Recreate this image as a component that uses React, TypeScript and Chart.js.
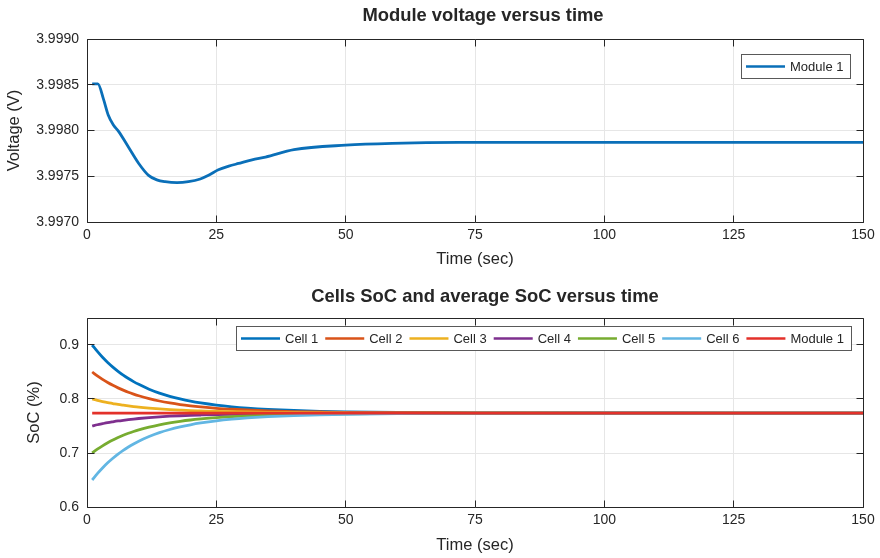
import React, { useEffect, useRef } from 'react';
import { Chart, registerables } from 'chart.js';

Chart.register(...registerables);

// ---------- data ----------
const timeV = [1, 2.1, 3.2, 4.1, 5.1, 6.1, 8, 10, 11.9, 13.5, 15.1, 17.4, 19.6, 21.9, 23.5, 25.4, 27.4, 29.3, 31.9, 34.5, 40, 50, 59, 72, 90, 110, 130, 150];
const voltage = [3.99851, 3.99851, 3.99834, 3.99817, 3.99806, 3.99799, 3.99782, 3.99764, 3.99751, 3.99746, 3.99744, 3.99743, 3.99744, 3.99747, 3.99751, 3.99757, 3.99761, 3.99764, 3.99768, 3.99771, 3.99779, 3.99784, 3.99786, 3.99787, 3.99787, 3.99787, 3.99787, 3.99787];

const timeSoC = [1, 2, 3, 4, 5, 6, 7, 8, 9, 10, 12, 14, 16, 18, 20, 22, 25, 28, 31, 35, 40, 45, 50, 60, 75, 100, 125, 150];
const cell1 = [0.9000, 0.8881, 0.8773, 0.8677, 0.8591, 0.8513, 0.8442, 0.8379, 0.8322, 0.8271, 0.8182, 0.8109, 0.8050, 0.8001, 0.7960, 0.7927, 0.7887, 0.7856, 0.7832, 0.7808, 0.7787, 0.7772, 0.7762, 0.7750, 0.7743, 0.7741, 0.7740, 0.7740];
const cell2 = [0.8500, 0.8428, 0.8363, 0.8305, 0.8253, 0.8206, 0.8164, 0.8125, 0.8091, 0.8060, 0.8007, 0.7963, 0.7927, 0.7897, 0.7873, 0.7853, 0.7828, 0.7810, 0.7796, 0.7781, 0.7768, 0.7760, 0.7753, 0.7746, 0.7742, 0.7740, 0.7740, 0.7740];
const cell3 = [0.8000, 0.7975, 0.7953, 0.7933, 0.7916, 0.7899, 0.7885, 0.7872, 0.7860, 0.7849, 0.7831, 0.7816, 0.7804, 0.7794, 0.7785, 0.7779, 0.7770, 0.7764, 0.7759, 0.7754, 0.7750, 0.7747, 0.7745, 0.7742, 0.7741, 0.7740, 0.7740, 0.7740];
const cell4 = [0.7500, 0.7523, 0.7543, 0.7562, 0.7578, 0.7593, 0.7606, 0.7618, 0.7629, 0.7639, 0.7656, 0.7670, 0.7681, 0.7690, 0.7698, 0.7704, 0.7712, 0.7718, 0.7722, 0.7727, 0.7731, 0.7734, 0.7736, 0.7738, 0.7739, 0.7740, 0.7740, 0.7740];
const cell5 = [0.7000, 0.7070, 0.7133, 0.7190, 0.7241, 0.7286, 0.7328, 0.7365, 0.7398, 0.7428, 0.7480, 0.7523, 0.7558, 0.7587, 0.7611, 0.7630, 0.7654, 0.7672, 0.7686, 0.7700, 0.7712, 0.7721, 0.7727, 0.7734, 0.7738, 0.7740, 0.7740, 0.7740];
const cell6 = [0.6500, 0.6618, 0.6723, 0.6818, 0.6903, 0.6980, 0.7049, 0.7111, 0.7167, 0.7218, 0.7305, 0.7377, 0.7435, 0.7483, 0.7523, 0.7556, 0.7596, 0.7626, 0.7649, 0.7673, 0.7694, 0.7708, 0.7718, 0.7730, 0.7737, 0.7740, 0.7740, 0.7740];
const module1 = [0.774, 0.774, 0.774, 0.774, 0.774, 0.774, 0.774, 0.774, 0.774, 0.774, 0.774, 0.774, 0.774, 0.774, 0.774, 0.774, 0.774, 0.774, 0.774, 0.774, 0.774, 0.774, 0.774, 0.774, 0.774, 0.774, 0.774, 0.774];

const socSeries = [cell1, cell2, cell3, cell4, cell5, cell6, module1];
const socLabels = ['Cell 1', 'Cell 2', 'Cell 3', 'Cell 4', 'Cell 5', 'Cell 6', 'Module 1'];
const socColors = ['#0072BD', '#D95319', '#EDB120', '#7E2F8E', '#77AC30', '#62B6E3', '#E3312A'];

const xTicks = [0, 25, 50, 75, 100, 125, 150];
const voltTicks = [3.997, 3.9975, 3.998, 3.9985, 3.999];
const socTicks = [0.6, 0.7, 0.8, 0.9];

// ---------- styling ----------
const FONT = '"Liberation Sans", Arial, Helvetica, sans-serif';
const AXIS_COLOR = '#262626';
const GRID_COLOR = '#e6e6e6';

const matlabPlugin = {
  id: 'matlabAxes',
  afterDraw(chart: any, _args: any, opts: any) {
    const { ctx, chartArea } = chart;
    const { left, right, top, bottom } = chartArea;
    const xs = chart.scales.x;
    const ys = chart.scales.y;
    const al = (p: number) => Math.round(p - 0.5) + 0.5;
    const L = al(left), R = al(right), T = al(top), B = al(bottom);
    ctx.save();
    ctx.strokeStyle = AXIS_COLOR;
    ctx.lineWidth = 1;
    ctx.beginPath();
    ctx.rect(L, T, R - L, B - T);
    ctx.stroke();
    const tl = 7;
    ctx.beginPath();
    xs.ticks.forEach((t: any) => {
      const px = al(xs.getPixelForValue(t.value));
      ctx.moveTo(px, B); ctx.lineTo(px, B - tl);
      ctx.moveTo(px, T); ctx.lineTo(px, T + tl);
    });
    ys.ticks.forEach((t: any) => {
      const py = al(ys.getPixelForValue(t.value));
      ctx.moveTo(L, py); ctx.lineTo(L + tl, py);
      ctx.moveTo(R, py); ctx.lineTo(R - tl, py);
    });
    ctx.stroke();

    // title
    ctx.fillStyle = AXIS_COLOR;
    ctx.font = `bold 18.4px ${FONT}`;
    ctx.textAlign = 'center';
    ctx.textBaseline = 'middle';
    ctx.fillText(opts.title, (left + right) / 2 + (opts.titleDx || 0), opts.titleY);

    // legend inside plot area
    ctx.font = `13px ${FONT}`;
    const items = chart.data.datasets.map((d: any) => ({ label: d.label, color: d.borderColor }));
    const lineLen = 39, gap = 5, after = 7, padL = 4.5, padR = 7.5;
    const widths = items.map((it: any) => ctx.measureText(it.label).width);
    let total = padL;
    widths.forEach((w: number, i: number) => {
      total += lineLen + gap + w + (i < widths.length - 1 ? after : 0);
    });
    total += padR;
    const boxH = opts.legendH;
    const bx = Math.round(right - opts.legendRight - total) + 0.5;
    const by = Math.round(top + opts.legendTop) + 0.5;
    ctx.fillStyle = '#ffffff';
    ctx.fillRect(bx, by, total, boxH);
    ctx.strokeStyle = '#595959';
    ctx.lineWidth = 1;
    ctx.strokeRect(bx, by, Math.round(total), boxH);
    let cx = bx + padL;
    const cy = by + boxH / 2;
    ctx.textAlign = 'left';
    ctx.textBaseline = 'middle';
    items.forEach((it: any, i: number) => {
      ctx.strokeStyle = it.color;
      ctx.lineWidth = 2.6;
      ctx.beginPath();
      ctx.moveTo(cx, cy);
      ctx.lineTo(cx + lineLen, cy);
      ctx.stroke();
      cx += lineLen + gap;
      ctx.fillStyle = AXIS_COLOR;
      ctx.fillText(it.label, cx, cy + 0.5);
      cx += widths[i] + after;
    });
    ctx.restore();
  },
};

function makeOptions(cfg: {
  yTicks: number[];
  yMin: number;
  yMax: number;
  yDecimals: number;
  yLabel: string;
  yTitlePad: number;
  padTop: number;
  xAxisH: number;
  xTitlePad: number;
  title: string;
  titleY: number;
  titleDx: number;
  legendRight: number;
  legendTop: number;
  legendH: number;
}) {
  return {
    responsive: false,
    animation: false,
    events: [],
    layout: { padding: { top: cfg.padTop, right: 17, left: 0, bottom: 0 } },
    plugins: {
      legend: { display: false },
      title: { display: false },
      tooltip: { enabled: false },
      matlabAxes: {
        title: cfg.title,
        titleY: cfg.titleY,
        titleDx: cfg.titleDx,
        legendRight: cfg.legendRight,
        legendTop: cfg.legendTop,
        legendH: cfg.legendH,
      },
    },
    elements: { point: { radius: 0 } },
    scales: {
      x: {
        type: 'linear',
        min: 0,
        max: 150,
        afterBuildTicks: (s: any) => { s.ticks = xTicks.map((v) => ({ value: v })); },
        afterFit: (s: any) => { s.height = cfg.xAxisH; },
        ticks: {
          autoSkip: false,
          maxRotation: 0,
          padding: 5,
          color: AXIS_COLOR,
          font: { family: FONT, size: 14 },
          callback: (v: any) => String(v),
        },
        grid: { color: GRID_COLOR, drawTicks: false },
        border: { display: false },
        title: {
          display: true,
          text: 'Time (sec)',
          color: AXIS_COLOR,
          font: { family: FONT, size: 16.5 },
          padding: { top: 0, bottom: cfg.xTitlePad },
        },
      },
      y: {
        type: 'linear',
        min: cfg.yMin,
        max: cfg.yMax,
        afterBuildTicks: (s: any) => { s.ticks = cfg.yTicks.map((v) => ({ value: v })); },
        afterFit: (s: any) => { s.width = 87; },
        ticks: {
          padding: 8,
          color: AXIS_COLOR,
          font: { family: FONT, size: 14 },
          callback: (v: any) => Number(v).toFixed(cfg.yDecimals),
        },
        grid: { color: GRID_COLOR, drawTicks: false },
        border: { display: false },
        title: {
          display: true,
          text: cfg.yLabel,
          color: AXIS_COLOR,
          font: { family: FONT, size: 16.5 },
          padding: { top: cfg.yTitlePad, bottom: 0 },
        },
      },
    },
  };
}

export default function App() {
  const topRef = useRef<HTMLCanvasElement>(null);
  const botRef = useRef<HTMLCanvasElement>(null);

  useEffect(() => {
    if (!topRef.current || !botRef.current) return;
    const top = new Chart(topRef.current, {
      type: 'line',
      data: {
        datasets: [
          {
            label: 'Module 1',
            data: timeV.map((t, i) => ({ x: t, y: voltage[i] })),
            borderColor: '#0a6fb8',
            borderWidth: 2.8,
            pointRadius: 0,
            cubicInterpolationMode: 'monotone',
          },
        ],
      },
      options: makeOptions({
        yTicks: voltTicks,
        yMin: 3.997,
        yMax: 3.999,
        yDecimals: 4,
        yLabel: 'Voltage (V)',
        yTitlePad: 5,
        padTop: 39,
        xAxisH: 58,
        xTitlePad: 11,
        title: 'Module voltage versus time',
        titleY: 16,
        titleDx: 8,
        legendRight: 13,
        legendTop: 15,
        legendH: 24,
      }) as any,
      plugins: [matlabPlugin],
    } as any);

    const bot = new Chart(botRef.current, {
      type: 'line',
      data: {
        datasets: socSeries.map((s, k) => ({
          label: socLabels[k],
          data: timeSoC.map((t, i) => ({ x: t, y: s[i] })),
          borderColor: socColors[k],
          borderWidth: 2.8,
          pointRadius: 0,
          cubicInterpolationMode: 'monotone',
          order: socSeries.length - 1 - k,
        })),
      },
      options: makeOptions({
        yTicks: socTicks,
        yMin: 0.6,
        yMax: 0.95,
        yDecimals: 1,
        yLabel: 'SoC (%)',
        yTitlePad: 25,
        padTop: 38,
        xAxisH: 51,
        xTitlePad: 3,
        title: 'Cells SoC and average SoC versus time',
        titleY: 17,
        titleDx: 10,
        legendRight: 12,
        legendTop: 7.5,
        legendH: 24,
      }) as any,
      plugins: [matlabPlugin],
    } as any);

    return () => {
      top.destroy();
      bot.destroy();
    };
  }, []);

  return (
    <div style={{ position: 'absolute', left: 0, top: 0, width: 880, height: 558, background: '#ffffff' }}>
      <canvas ref={topRef} width={880} height={280} style={{ display: 'block', width: 880, height: 280 }} />
      <canvas ref={botRef} width={880} height={278} style={{ display: 'block', width: 880, height: 278 }} />
    </div>
  );
}
